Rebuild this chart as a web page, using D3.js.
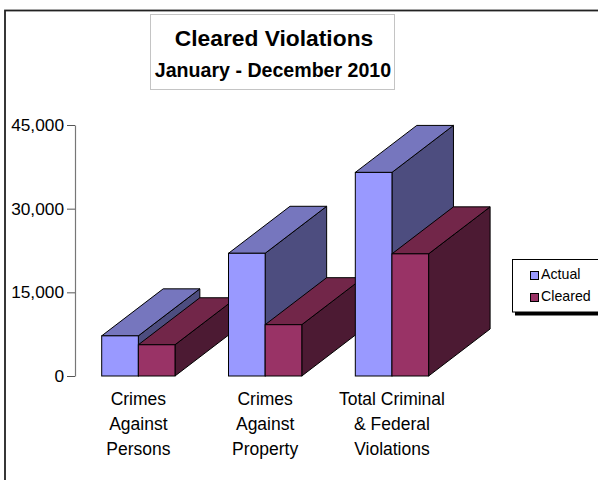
<!DOCTYPE html>
<html>
<head>
<meta charset="utf-8">
<script src="https://cdn.jsdelivr.net/npm/d3@7"></script>
<style>
  html, body { margin: 0; padding: 0; background: #fff; }
  svg { display: block; font-family: "Liberation Sans", Arial, sans-serif; }
</style>
</head>
<body>
<svg id="chart" width="598" height="480"></svg>
<script>
// Chart data
const categories = [
  ["Crimes", "Against", "Persons"],
  ["Crimes", "Against", "Property"],
  ["Total Criminal", "& Federal", "Violations"]
];
const seriesNames = ["Actual", "Cleared"];
const actualValues = [7200, 22000, 36500];
const clearedValues = [5600, 9200, 21900];
const yTicks = [0, 15000, 30000, 45000];
const titleText = "Cleared Violations";
const subtitleText = "January - December 2010";

const svg = d3.select("#chart");

// Colour sets per series: front, top and side faces
const faceColors = {
  Actual:  { front: "#9999FF", top: "#7676BE", side: "#4D4D7F" },
  Cleared: { front: "#993366", top: "#722649", side: "#4C1A33" }
};

// Outer chart frame
svg.append("rect")
  .attr("x", 5).attr("y", 10.5)
  .attr("width", 800).attr("height", 800)
  .attr("fill", "none").attr("stroke", "#222").attr("stroke-width", 1.8);

// Title box
svg.append("rect")
  .attr("x", 150.5).attr("y", 14.5)
  .attr("width", 244).attr("height", 75)
  .attr("fill", "#fff").attr("stroke", "#c4c4c4").attr("stroke-width", 1);
svg.append("text")
  .attr("x", 274).attr("y", 46)
  .attr("text-anchor", "middle")
  .attr("font-size", 22.8).attr("font-weight", "bold")
  .text(titleText);
svg.append("text")
  .attr("x", 273).attr("y", 77)
  .attr("text-anchor", "middle")
  .attr("font-size", 19.6).attr("font-weight", "bold")
  .text(subtitleText);

// Scales
const y = d3.scaleLinear().domain([0, 45000]).range([376, 125]);
const x0 = d3.scaleBand()
  .domain(d3.range(categories.length))
  .range([101.7, 428.6])
  .paddingInner(0.422)
  .paddingOuter(0);
const x1 = d3.scaleBand()
  .domain(seriesNames)
  .range([0, x0.bandwidth()])
  .padding(0);

// Depth offset of the 3-D boxes
const depthX = 61.5, depthY = -47;

// Value axis
const yAxis = d3.axisLeft(y)
  .tickValues(yTicks)
  .tickFormat(d3.format(","))
  .tickSize(8)
  .tickSizeOuter(0)
  .tickPadding(3);
const axisG = svg.append("g")
  .attr("transform", "translate(75,0)")
  .call(yAxis);
axisG.select(".domain").attr("stroke", "#777").attr("stroke-width", 1.2);
axisG.selectAll(".tick line").attr("stroke", "#555");
axisG.selectAll(".tick text")
  .attr("font-size", 17.3)
  .attr("fill", "#000")
  .attr("font-family", "Liberation Sans, Arial, sans-serif");

// Bars, drawn left to right so nearer boxes overlap correctly
const bars = [];
categories.forEach((c, i) => {
  bars.push({ cat: i, series: "Actual", value: actualValues[i] });
  bars.push({ cat: i, series: "Cleared", value: clearedValues[i] });
});

const barG = svg.append("g");
bars.forEach(b => {
  const xl = x0(b.cat) + x1(b.series);
  const xr = xl + x1.bandwidth();
  const yt = y(b.value);
  const yb = y(0);
  const col = faceColors[b.series];
  const g = barG.append("g");
  const line = d3.line();
  // side face
  g.append("path")
    .attr("d", line([[xr, yt], [xr + depthX, yt + depthY], [xr + depthX, yb + depthY], [xr, yb]]) + "Z")
    .attr("fill", col.side).attr("stroke", "#000").attr("stroke-width", 1).attr("stroke-linejoin", "round");
  // top face
  g.append("path")
    .attr("d", line([[xl, yt], [xl + depthX, yt + depthY], [xr + depthX, yt + depthY], [xr, yt]]) + "Z")
    .attr("fill", col.top).attr("stroke", "#000").attr("stroke-width", 1).attr("stroke-linejoin", "round");
  // front face
  g.append("rect")
    .attr("x", xl).attr("y", yt)
    .attr("width", xr - xl).attr("height", yb - yt)
    .attr("fill", col.front).attr("stroke", "#000").attr("stroke-width", 1);
});

// Category labels
const catG = svg.append("g");
categories.forEach((lines, i) => {
  const cx = x0(i) + x0.bandwidth() / 2;
  const t = catG.append("text")
    .attr("text-anchor", "middle")
    .attr("font-size", 17.5)
    .attr("fill", "#000");
  lines.forEach((ln, k) => {
    t.append("tspan").attr("x", cx).attr("y", 405 + k * 25).text(ln);
  });
});

// Legend
const legG = svg.append("g");
legG.append("rect")
  .attr("x", 515).attr("y", 312).attr("width", 100).attr("height", 3.5)
  .attr("fill", "#000");
legG.append("rect")
  .attr("x", 512.5).attr("y", 259.5).attr("width", 100).attr("height", 52.5)
  .attr("fill", "#fff").attr("stroke", "#000").attr("stroke-width", 1);
seriesNames.forEach((s, k) => {
  const yy = 271 + k * 22;
  legG.append("rect")
    .attr("x", 530.5).attr("y", yy + 0.5).attr("width", 8).attr("height", 8)
    .attr("fill", faceColors[s].front).attr("stroke", "#000").attr("stroke-width", 1);
  legG.append("text")
    .attr("x", 541).attr("y", yy + 8)
    .attr("font-size", 14.2).attr("fill", "#000")
    .text(s);
});
</script>
</body>
</html>
